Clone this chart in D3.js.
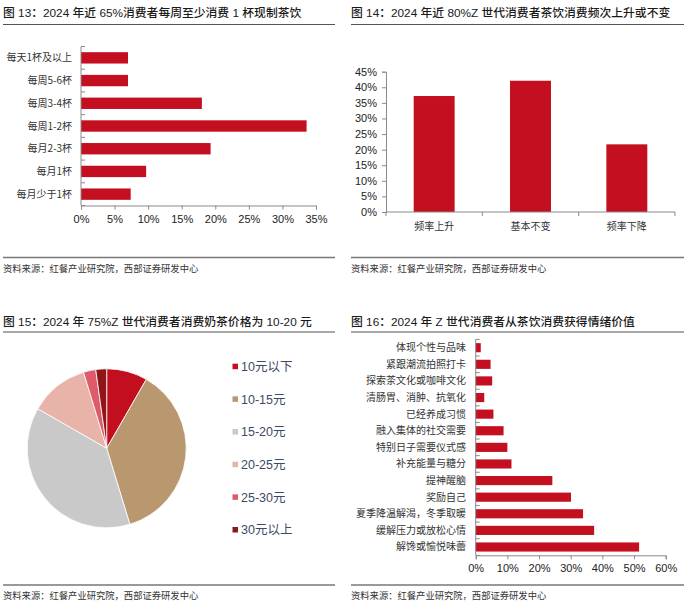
<!DOCTYPE html>
<html>
<head>
<meta charset="utf-8">
<script src="https://cdn.jsdelivr.net/npm/d3@7"></script>
<style>
  body { margin: 0; background: #fff; }
  svg { display: block; }
  text { font-family: "Liberation Sans", "Noto Sans CJK SC", sans-serif; }
</style>
</head>
<body>
<div id="chart"></div>
<script>
// 图13 数据
const freqCats = ["每天1杯及以上", "每周5-6杯", "每周3-4杯", "每周1-2杯", "每月2-3杯", "每月1杯", "每月少于1杯"];
const freqVals = [7.0, 7.0, 18.0, 33.6, 19.3, 9.7, 7.4];
const freqTicks = [0, 5, 10, 15, 20, 25, 30, 35];

// 图14 数据
const trendCats = ["频率上升", "基本不变", "频率下降"];
const trendVals = [37.2, 42.1, 21.7];
const trendTicks = [0, 5, 10, 15, 20, 25, 30, 35, 40, 45];

// 图15 数据
const priceCats = ["10元以下", "10-15元", "15-20元", "20-25元", "25-30元", "30元以上"];
const priceVals = [8.3, 37.0, 38.0, 12.0, 2.5, 2.2];
const priceColors = ["#c20e1f", "#b9976f", "#c9c9c9", "#e8b3a8", "#dd5b6b", "#8e1616"];

// 图16 数据
const emoCats = ["体现个性与品味", "紧跟潮流拍照打卡", "探索茶文化或咖啡文化", "清肠胃、消肿、抗氧化", "已经养成习惯",
  "融入集体的社交需要", "特别日子需要仪式感", "补充能量与糖分", "提神醒脑", "奖励自己",
  "夏季降温解渴，冬季取暖", "缓解压力或放松心情", "解馋或愉悦味蕾"];
const emoVals = [1.6, 4.7, 5.2, 2.7, 5.6, 8.8, 10.0, 11.3, 24.2, 30.1, 33.9, 37.4, 51.6];
const emoTicks = [0, 10, 20, 30, 40, 50, 60];

const titles = [
  "图 13：2024 年近 65%消费者每周至少消费 1 杯现制茶饮",
  "图 14：2024 年近 80%Z 世代消费者茶饮消费频次上升或不变",
  "图 15：2024 年 75%Z 世代消费者消费奶茶价格为 10-20 元",
  "图 16：2024 年 Z 世代消费者从茶饮消费获得情绪价值"
];
const source = "资料来源：红餐产业研究院，西部证券研发中心";

const RED = "#c30f1f";
const AXIS = "#8a8a8a";
const CJK = "'Noto Sans CJK SC', sans-serif";

const svg = d3.select("#chart").append("svg")
    .attr("width", 700)
    .attr("height", 609);

// 标题、分隔线、来源
function frame(x0, x1, yTitle, yRule, yBottom, title) {
    svg.append("text")
        .attr("x", x0)
        .attr("y", yTitle)
        .attr("font-size", 11.8)
        .attr("font-weight", 500)
        .attr("fill", "#1a1a1a")
        .text(title);
    svg.append("line")
        .attr("x1", x0).attr("x2", x1)
        .attr("y1", yRule).attr("y2", yRule)
        .attr("stroke", "#555").attr("stroke-width", 1.2);
    svg.append("line")
        .attr("x1", x0).attr("x2", x1)
        .attr("y1", yBottom).attr("y2", yBottom)
        .attr("stroke", "#777").attr("stroke-width", 1.4);
    svg.append("text")
        .attr("x", x0)
        .attr("y", yBottom + 14)
        .attr("font-size", 9.3)
        .attr("fill", "#333")
        .style("font-family", CJK)
        .text(source);
}

frame(3, 335, 17, 24.5, 257.5, titles[0]);
frame(351, 684, 17, 24.5, 257.5, titles[1]);
frame(3, 335, 326, 332, 585, titles[2]);
frame(351, 684, 326, 332, 585, titles[3]);

// 横向条形图（图13、图16）
function hbar(cats, vals, ticks, xr, yr, padIn, labelX, tickY) {
    const x = d3.scaleLinear().domain([0, ticks[ticks.length - 1]]).range(xr);
    const y = d3.scaleBand().domain(cats).range(yr).paddingInner(padIn).paddingOuter(padIn / 2);
    const g = svg.append("g");

    g.selectAll("rect")
        .data(cats)
        .join("rect")
        .attr("x", x(0))
        .attr("y", d => y(d))
        .attr("width", (d, i) => x(vals[i]) - x(0))
        .attr("height", y.bandwidth())
        .attr("fill", RED);

    // 左轴
    g.append("line")
        .attr("x1", x(0)).attr("x2", x(0))
        .attr("y1", yr[0]).attr("y2", yr[1])
        .attr("stroke", AXIS);
    const step = y.step();
    d3.range(cats.length + 1).forEach(i => {
        const yy = yr[0] + i * step;
        g.append("line")
            .attr("x1", x(0)).attr("x2", x(0) + 4)
            .attr("y1", yy).attr("y2", yy)
            .attr("stroke", AXIS);
    });
    g.selectAll("text.cat")
        .data(cats)
        .join("text")
        .attr("class", "cat")
        .attr("x", labelX)
        .attr("y", d => y(d) + y.bandwidth() / 2)
        .attr("dy", "0.35em")
        .attr("text-anchor", "end")
        .attr("font-size", 10)
        .attr("fill", "#333")
        .style("font-family", CJK)
        .text(d => d);

    // 底轴
    const ax = g.append("g")
        .attr("transform", `translate(0,${yr[1]})`)
        .call(d3.axisBottom(x).tickValues(ticks).tickSize(4).tickFormat(d => d + "%"));
    ax.select(".domain").attr("stroke", AXIS);
    ax.selectAll(".tick line").attr("stroke", AXIS);
    ax.selectAll(".tick text")
        .attr("y", tickY - yr[1])
        .attr("dy", "0.35em")
        .attr("font-size", 11)
        .attr("fill", "#222")
        .style("font-family", "'Liberation Sans', sans-serif");
}

hbar(freqCats, freqVals, freqTicks, [81, 316], [46.5, 205.5], 0.5, 72, 219);
hbar(emoCats, emoVals, emoTicks, [475.7, 665.7], [339.4, 555.3], 0.45, 466, 568);

// 图14 纵向柱状图
(function () {
    const x = d3.scaleBand().domain(trendCats).range([386, 675]).paddingInner(0.575).paddingOuter(0.2875);
    const y = d3.scaleLinear().domain([0, 45]).range([212, 71.7]);
    const g = svg.append("g");

    g.selectAll("rect")
        .data(trendCats)
        .join("rect")
        .attr("x", d => x(d))
        .attr("y", (d, i) => y(trendVals[i]))
        .attr("width", x.bandwidth())
        .attr("height", (d, i) => y(0) - y(trendVals[i]))
        .attr("fill", RED);

    const ay = g.append("g")
        .attr("transform", "translate(386,0)")
        .call(d3.axisLeft(y).tickValues(trendTicks).tickSize(4).tickFormat(d => d + "%"));
    ay.select(".domain").attr("stroke", AXIS);
    ay.selectAll(".tick line").attr("stroke", AXIS);
    ay.selectAll(".tick text")
        .attr("x", -9)
        .attr("font-size", 11)
        .attr("fill", "#222")
        .style("font-family", "'Liberation Sans', sans-serif");

    g.append("line")
        .attr("x1", 386).attr("x2", 675)
        .attr("y1", y(0)).attr("y2", y(0))
        .attr("stroke", AXIS);
    d3.range(trendCats.length + 1).forEach(i => {
        const xx = 386 + i * x.step();
        g.append("line")
            .attr("x1", xx).attr("x2", xx)
            .attr("y1", y(0)).attr("y2", y(0) + 4)
            .attr("stroke", AXIS);
    });
    g.selectAll("text.cat")
        .data(trendCats)
        .join("text")
        .attr("class", "cat")
        .attr("x", d => x(d) + x.bandwidth() / 2)
        .attr("y", 226)
        .attr("text-anchor", "middle")
        .attr("dy", "0.35em")
        .attr("font-size", 10)
        .attr("fill", "#333")
        .style("font-family", CJK)
        .text(d => d);
})();

// 图15 饼图
(function () {
    const pie = d3.pie().sort(null).value(d => d);
    const arc = d3.arc().innerRadius(0).outerRadius(79.5);
    const g = svg.append("g").attr("transform", "translate(106.7,448.3)");

    g.selectAll("path")
        .data(pie(priceVals))
        .join("path")
        .attr("d", arc)
        .attr("fill", (d, i) => priceColors[i])
        .attr("stroke", "#fff")
        .attr("stroke-width", 0.8);

    const ly = d3.scalePoint().domain(priceCats).range([366.7, 530]);
    const lg = svg.append("g");
    lg.selectAll("rect")
        .data(priceCats)
        .join("rect")
        .attr("x", 232.5)
        .attr("y", d => ly(d) - 3)
        .attr("width", 5.5)
        .attr("height", 5.5)
        .attr("fill", (d, i) => priceColors[i]);
    lg.selectAll("text")
        .data(priceCats)
        .join("text")
        .attr("x", 241)
        .attr("y", d => ly(d))
        .attr("dy", "0.35em")
        .attr("font-size", 12.5)
        .attr("fill", "#3b4a66")
        .text(d => d);
})();
</script>
</body>
</html>
